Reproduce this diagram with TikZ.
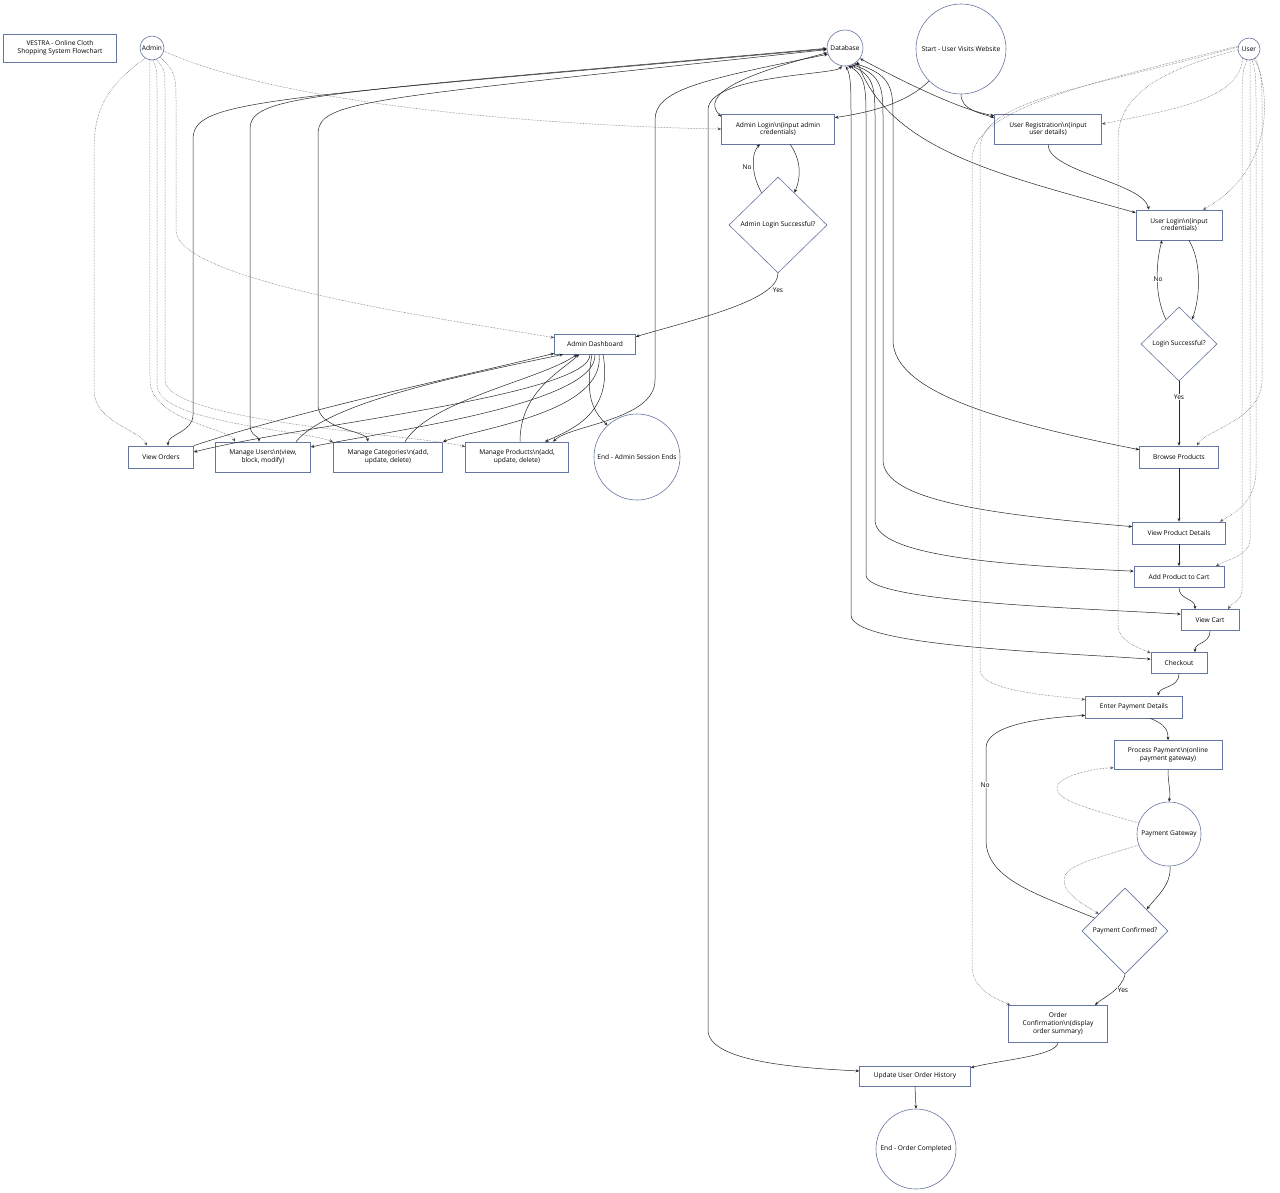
\documentclass[tikz,border=0pt]{standalone}
\usepackage{fontspec}
\setmainfont{Open Sans}
\usetikzlibrary{shapes.geometric,arrows.meta}
\definecolor{nodeb}{HTML}{6676A2}
\definecolor{edgec}{HTML}{262626}
\definecolor{dotc}{HTML}{555555}
\newcommand{\myfs}{\fontsize{6.6}{7.8}\selectfont}
\newcommand{\bsn}{\textbackslash n}
\begin{document}
\begin{tikzpicture}[x=1pt,y=-1pt,
  box/.style={draw=nodeb, line width=0.65pt, fill=white, align=center, inner sep=1pt, font=\myfs},
  circ/.style={draw=nodeb, line width=0.6pt, fill=white, circle, inner sep=0pt, align=center, font=\myfs},
  dia/.style={draw=nodeb, line width=0.6pt, fill=white, diamond, aspect=1, inner sep=0pt, align=center, font=\myfs},
  ed/.style={draw=edgec, line width=0.5pt, -{Stealth[length=3.6pt,width=3pt]}},
  bd/.style={draw=edgec, line width=0.5pt, {Stealth[length=3.6pt,width=3pt]}-{Stealth[length=3.6pt,width=3pt]}},
  dt/.style={draw=dotc, line width=0.5pt, densely dotted, -{Stealth[length=3.6pt,width=3pt]}},
  lbl/.style={fill=white, inner sep=1pt, font=\myfs}
]
\fill[white] (0,0) rectangle (1280,1192);
\useasboundingbox (0,0) rectangle (1280,1192);

% nodes
\node[box, minimum width=113pt, minimum height=28pt] (title) at (60,48) {VESTRA - Online Cloth\\Shopping System Flowchart};
\node[circ, minimum size=24pt] (admin) at (152,48) {Admin};
\node[circ, minimum size=36pt] (db) at (845,48) {Database};
\node[circ, minimum size=90pt] (start) at (961,49) {Start - User Visits Website};
\node[circ, minimum size=22pt] (user) at (1249,49) {User};
\node[box, minimum width=113pt, minimum height=30pt] (alogin) at (778,129) {Admin Login\bsn(input admin\\credentials)};
\node[box, minimum width=107pt, minimum height=30pt] (ureg) at (1048,129) {User Registration\bsn(input\\user details)};
\node[dia, minimum width=98pt, minimum height=96pt] (adec) at (778,225) {Admin Login Successful?};
\node[box, minimum width=86pt, minimum height=30pt] (ulogin) at (1179,225) {User Login\bsn(input\\credentials)};
\node[dia, minimum width=76pt, minimum height=74pt] (udec) at (1179,344) {Login Successful?};
\node[box, minimum width=81pt, minimum height=20pt] (dash) at (595,344) {Admin Dashboard};
\node[box, minimum width=65pt, minimum height=22pt] (vo) at (161,457) {View Orders};
\node[box, minimum width=95pt, minimum height=30pt] (mu) at (263,457) {Manage Users\bsn(view,\\block, modify)};
\node[box, minimum width=109pt, minimum height=30pt] (mc) at (388,457) {Manage Categories\bsn(add,\\update, delete)};
\node[box, minimum width=103pt, minimum height=30pt] (mp) at (517,457) {Manage Products\bsn(add,\\update, delete)};
\node[circ, minimum size=86pt] (aend) at (637,457) {End - Admin Session Ends};
\node[box, minimum width=79pt, minimum height=22pt] (bp) at (1179,457) {Browse Products};
\node[box, minimum width=93pt, minimum height=22pt] (vpd) at (1179,533) {View Product Details};
\node[box, minimum width=90pt, minimum height=21pt] (atc) at (1179,577) {Add Product to Cart};
\node[box, minimum width=58pt, minimum height=21pt] (vc) at (1210,620) {View Cart};
\node[box, minimum width=56pt, minimum height=21pt] (co) at (1179,663) {Checkout};
\node[box, minimum width=97pt, minimum height=22pt] (epd) at (1134,707) {Enter Payment Details};
\node[box, minimum width=108pt, minimum height=29pt] (pp) at (1168,755) {Process Payment\bsn(online\\payment gateway)};
\node[circ, minimum size=64pt] (pg) at (1169,834) {Payment Gateway};
\node[dia, minimum width=86pt, minimum height=86pt] (pc) at (1125,931) {Payment Confirmed?};
\node[box, minimum width=99pt, minimum height=37pt] (oc) at (1058,1024) {Order\\Confirmation\bsn(display\\order summary)};
\node[box, minimum width=111pt, minimum height=20pt] (uoh) at (915,1076) {Update User Order History};
\node[circ, minimum size=80pt] (oend) at (916,1149) {End - Order Completed};

% main flow
\draw[ed] (start.225) .. controls (905,105) and (865,113) .. ([yshift=-4pt]alogin.north east);
\draw[ed] (start.south) .. controls (961,110) and (980,113) .. ([yshift=-4pt]ureg.north west);
\draw[ed] ([xshift=12pt]alogin.south) .. controls (800,158) and (802,175) .. (adec.63);
\draw[ed] (adec.117) .. controls (750,172) and (752,152) .. ([xshift=-18pt]alogin.south);
\node[lbl] (lno1) at (747,167) {No};
\draw[ed] (adec.south) .. controls (778,300) and (700,318) .. ([yshift=-3pt]dash.north east);
\node[lbl] (lyes1) at (778,290) {Yes};
\draw[ed] (ureg.south) .. controls (1048,172) and (1142,182) .. ([xshift=-30pt]ulogin.north);
\draw[ed] ([xshift=10pt]ulogin.south) .. controls (1202,262) and (1200,298) .. (udec.62);
\draw[ed] (udec.118) .. controls (1154,295) and (1156,262) .. ([xshift=-17pt]ulogin.south);
\node[lbl] (lno2) at (1158,279) {No};
\draw[ed] (udec.south) -- (bp.north);
\node[lbl] (lyes2) at (1179,397) {Yes};
\draw[ed] (bp.south) -- (vpd.north);
\draw[ed] (vpd.south) -- (atc.north);
\draw[ed] (atc.south) .. controls (1179,600) and (1195,598) .. ([xshift=-15pt]vc.north);
\draw[ed] (vc.south) .. controls (1210,644) and (1195,642) .. ([xshift=16pt]co.north);
\draw[ed] (co.south) .. controls (1179,688) and (1160,686) .. ([xshift=24pt]epd.north);
\draw[ed] ([xshift=16pt]epd.south) .. controls (1165,724) and (1168,730) .. (pp.north);
\draw[ed] (pp.south) .. controls (1168,785) and (1171,790) .. (pg.north);
\draw[ed] (pg.-88) .. controls (1171,885) and (1158,895) .. (pc.45);
\draw[ed] (pc.south) .. controls (1122,990) and (1102,998) .. ([xshift=37pt]oc.north);
\node[lbl] (lyes3) at (1123,990) {Yes};
\draw[ed] (pc.157) .. controls (1040,895) and (986,880) .. (986,840) -- (986,748) .. controls (986,725) and (1040,718) .. ([yshift=3pt]epd.south west);
\node[lbl] (lno3) at (985,785) {No};
\draw[dt] (pg.160) .. controls (1085,808) and (1057,800) .. (1057,788) .. controls (1057,776) and (1095,768) .. ([yshift=2pt]pp.south west);
\draw[dt] (pg.200) .. controls (1090,860) and (1064,866) .. (1064,880) .. controls (1064,895) and (1085,905) .. (pc.147);
\draw[ed] (oc.south) .. controls (1056,1056) and (1000,1060) .. ([yshift=-2pt]uoh.north east);
\draw[ed] (uoh.south) -- (oend.north);

% dashboard
\draw[ed] ([xshift=-5pt]dash.south) .. controls (592,395) and (300,425) .. ([yshift=5pt]vo.east);
\draw[ed] ([xshift=0pt]dash.south) .. controls (598,405) and (380,432) .. ([yshift=10pt]mu.east);
\draw[ed] ([xshift=4pt]dash.south) .. controls (606,412) and (480,428) .. (mc.north east);
\draw[ed] ([xshift=8pt]dash.south) .. controls (614,415) and (570,430) .. ([xshift=28pt]mp.north);
\draw[ed] ([xshift=-3pt]dash.south) .. controls (585,395) and (592,410) .. (aend.133);
\draw[ed] (vo.north east) .. controls (300,410) and (480,372) .. ([yshift=1pt]dash.south west);
\draw[ed] ([xshift=33pt]mu.north) .. controls (330,400) and (480,372) .. ([xshift=9pt]dash.south west);
\draw[ed] ([xshift=17pt]mc.north) .. controls (430,400) and (540,380) .. ([xshift=23pt]dash.south west);
\draw[ed] ([xshift=3pt]mp.north) .. controls (520,392) and (560,372) .. ([xshift=25pt]dash.south west);

% admin dotted
\draw[dt] (admin.-15) .. controls (300,112) and (600,127) .. (alogin.west);
\draw[dt] (admin.235) .. controls (110,85) and (94,105) .. (94,150) -- (94,390) .. controls (94,422) and (140,430) .. ([xshift=-14pt]vo.north);
\draw[dt] (admin.-100) -- (150,380) .. controls (150,420) and (228,428) .. ([xshift=-28pt]mu.north);
\draw[dt] (admin.-85) .. controls (157,70) .. (157,90) -- (157,385) .. controls (157,422) and (300,430) .. ([xshift=-55pt]mc.north);
\draw[dt] (admin.-70) .. controls (165,70) .. (165,92) -- (165,380) .. controls (165,422) and (420,435) .. ([yshift=-5pt]mp.north west);
\draw[dt] (admin.-50) .. controls (176,70) and (176,80) .. (176,100) -- (176,230) .. controls (176,282) and (450,320) .. ([yshift=-4pt]dash.north west);

% database links (left)
\draw[bd] (db.183) .. controls (250,100) and (193,100) .. (193,140) -- (193,415) .. controls (193,432) and (168,434) .. ([xshift=7pt]vo.north);
\draw[bd] (db.181) .. controls (300,95) and (250,95) .. (250,130) -- (250,425) .. controls (250,436) and (259,436) .. ([xshift=-4pt]mu.north);
\draw[bd] (db.185) .. controls (360,100) and (318,100) .. (318,135) -- (318,405) .. controls (318,430) and (366,430) .. ([xshift=-20pt]mc.north);
\draw[bd] (db.200) .. controls (700,80) and (655,90) .. (655,120) -- (655,380) .. controls (655,420) and (570,425) .. ([xshift=36pt]mp.north);
\draw[bd] (db.195) .. controls (740,75) and (700,95) .. ([yshift=-3pt]alogin.north west);
\draw[bd] (db.-100) .. controls (835,75) and (708,75) .. (708,110) -- (708,1030) .. controls (708,1062) and (800,1068) .. ([yshift=5pt]uoh.west);

% database links (right)
\draw[bd] (db.-35) .. controls (900,80) and (960,110) .. ([yshift=-2pt]ureg.north west);
\draw[bd] (db.-48) .. controls (890,150) and (1000,175) .. ([yshift=-3pt]ulogin.north west);
\draw[bd] (db.-58) .. controls (893,75) and (893,90) .. (893,120) -- (893,340) .. controls (893,392) and (1000,422) .. ([yshift=-4pt]bp.north west);
\draw[bd] (db.-66) .. controls (883,75) and (883,90) .. (883,120) -- (883,460) .. controls (883,502) and (1000,515) .. ([yshift=-5pt]vpd.north west);
\draw[bd] (db.-74) .. controls (875,75) and (875,90) .. (875,120) -- (875,520) .. controls (875,556) and (1000,565) .. ([yshift=-5pt]atc.north west);
\draw[bd] (db.-80) .. controls (866,75) and (866,90) .. (866,120) -- (866,575) .. controls (866,602) and (1080,608) .. ([yshift=-5pt]vc.north west);
\draw[bd] (db.-88) .. controls (851,75) and (851,90) .. (851,120) -- (851,615) .. controls (851,646) and (1050,652) .. ([yshift=-7pt]co.north west);

% user dotted
\draw[dt] (user.235) .. controls (1240,100) and (1170,110) .. ([yshift=5pt]ureg.east);
\draw[dt] (user.-55) .. controls (1275,110) and (1265,175) .. ([xshift=24pt]ulogin.north);
\draw[dt] (user.-65) .. controls (1262,70) and (1262,80) .. (1262,110) -- (1262,380) .. controls (1262,420) and (1205,430) .. ([xshift=18pt]bp.north);
\draw[dt] (user.-75) .. controls (1256,70) and (1256,80) .. (1256,110) -- (1256,470) .. controls (1256,505) and (1230,515) .. ([xshift=41pt]vpd.north);
\draw[dt] (user.-85) .. controls (1250,70) and (1250,80) .. (1250,110) -- (1250,540) .. controls (1250,556) and (1225,560) .. ([xshift=37pt]atc.north);
\draw[dt] (user.-100) .. controls (1242,70) and (1242,80) .. (1242,110) -- (1242,590) .. controls (1242,600) and (1232,603) .. ([xshift=18pt]vc.north);
\draw[dt] (user.185) .. controls (1160,70) and (1118,95) .. (1118,140) -- (1118,625) .. controls (1118,642) and (1140,648) .. ([yshift=-1pt]co.north west);
\draw[dt] (user.170) .. controls (1080,90) and (980,100) .. (980,150) -- (980,670) .. controls (980,692) and (1060,696) .. ([yshift=-4pt]epd.north west);
\draw[dt] (user.165) .. controls (1080,85) and (972,110) .. (972,160) -- (972,965) .. controls (972,990) and (995,998) .. ([xshift=2pt]oc.north west);
\end{tikzpicture}
\end{document}
